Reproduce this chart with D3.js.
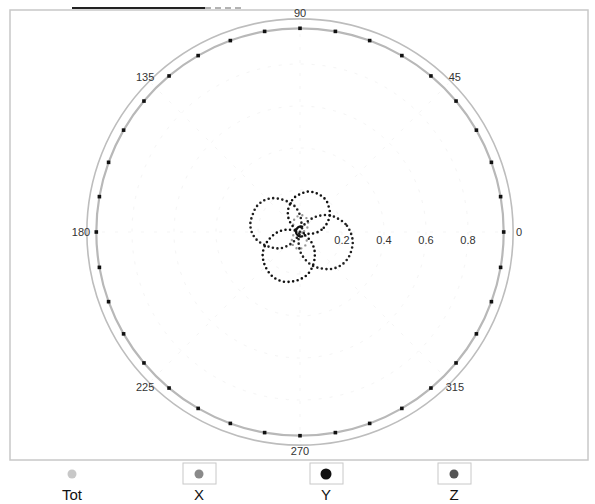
<!DOCTYPE html>
<html>
<head>
<meta charset="utf-8">
<script src="https://cdn.jsdelivr.net/npm/d3@7"></script>
<style>
  body { margin: 0; background: #fff; }
  text { font-family: "Liberation Sans", Arial, sans-serif; }
</style>
</head>
<body>
<svg id="chart"></svg>
<script>
var width = 595;
var height = 504;

// angles in degrees, counter-clockwise from east
var angles = [0, 10, 20, 30, 40, 50, 60, 70, 80, 90, 100, 110, 120, 130, 140, 150, 160, 170,
              180, 190, 200, 210, 220, 230, 240, 250, 260, 270, 280, 290, 300, 310, 320, 330, 340, 350];

var totValues = [0.97, 0.97, 0.97, 0.97, 0.97, 0.97, 0.97, 0.97, 0.97, 0.97, 0.97, 0.97,
                 0.97, 0.97, 0.97, 0.97, 0.97, 0.97, 0.97, 0.97, 0.97, 0.97, 0.97, 0.97,
                 0.97, 0.97, 0.97, 0.97, 0.97, 0.97, 0.97, 0.97, 0.97, 0.97, 0.97, 0.97];

var xValues = [0.24, 0.22, 0.19, 0.16, 0.12, 0.08, 0.04, 0.0, 0.04, 0.08, 0.12, 0.15,
               0.18, 0.21, 0.23, 0.24, 0.24, 0.24, 0.23, 0.21, 0.18, 0.15, 0.12, 0.08,
               0.04, 0.0, 0.04, 0.09, 0.13, 0.17, 0.2, 0.23, 0.25, 0.26, 0.26, 0.255];

var yValues = [0.085, 0.115, 0.14, 0.165, 0.18, 0.195, 0.2, 0.2, 0.195, 0.18, 0.165, 0.14,
               0.115, 0.085, 0.05, 0.018, 0.02, 0.065, 0.105, 0.14, 0.175, 0.205, 0.225, 0.24,
               0.25, 0.25, 0.24, 0.225, 0.205, 0.175, 0.14, 0.105, 0.065, 0.02, 0.018, 0.05];

var zValues = [0.01, 0.02, 0.03, 0.04, 0.05, 0.06, 0.07, 0.075, 0.08, 0.08, 0.075, 0.07,
               0.06, 0.05, 0.04, 0.03, 0.02, 0.01, 0.01, 0.02, 0.03, 0.04, 0.05, 0.06,
               0.07, 0.075, 0.08, 0.08, 0.075, 0.07, 0.06, 0.05, 0.04, 0.03, 0.02, 0.01];

var angleTicks = [0, 45, 90, 135, 180, 225, 270, 315];
var radialTicks = [0.2, 0.4, 0.6, 0.8];
var legendNames = ["Tot", "X", "Y", "Z"];
var legendColors = ["#c8c8c8", "#8a8a8a", "#111", "#555"];

var cx = 300, cy = 232;

var svg = d3.select("#chart")
  .attr("width", width)
  .attr("height", height);

svg.append("rect").attr("width", width).attr("height", height).attr("fill", "#fff");

// scan fragment above the frame
svg.append("line").attr("x1", 72).attr("x2", 205).attr("y1", 8).attr("y2", 8)
  .attr("stroke", "#222").attr("stroke-width", 2);
svg.append("line").attr("x1", 205).attr("x2", 245).attr("y1", 8).attr("y2", 8)
  .attr("stroke", "#666").attr("stroke-width", 1).attr("stroke-dasharray", "6,4");

// plot frame
svg.append("rect").attr("x", 10).attr("y", 10).attr("width", 578).attr("height", 450)
  .attr("fill", "none").attr("stroke", "#c8c8c8").attr("stroke-width", 1.5);

var r = d3.scaleLinear().domain([0, 1]).range([0, 210]);

var g = svg.append("g").attr("transform", "translate(" + cx + "," + cy + ")");

function rad(deg) { return deg * Math.PI / 180; }

// faint grid
g.selectAll(".grid")
  .data(radialTicks)
  .enter().append("circle")
  .attr("r", d => r(d))
  .attr("fill", "none")
  .attr("stroke", "#f5f5f5")
  .attr("stroke-dasharray", "3,8");

g.selectAll(".spoke")
  .data(angleTicks)
  .enter().append("line")
  .attr("x1", 0).attr("y1", 0)
  .attr("x2", d => r(1.0) * Math.cos(rad(d)))
  .attr("y2", d => -r(1.0) * Math.sin(rad(d)))
  .attr("stroke", "#f5f5f5")
  .attr("stroke-dasharray", "3,10");

// outer axis ring
g.append("circle").attr("r", r(1.015))
  .attr("fill", "none").attr("stroke", "#bdbdbd").attr("stroke-width", 1.6);

var radial = d3.lineRadial()
  .angle(d => Math.PI / 2 - rad(d[0]))
  .radius(d => r(d[1]))
  .curve(d3.curveCardinalClosed);

function pairs(vals) { return angles.map((a, i) => [a, vals[i]]); }

// Tot
g.append("path").datum(pairs(totValues))
  .attr("d", radial)
  .attr("fill", "none").attr("stroke", "#b8b8b8").attr("stroke-width", 2.2);

g.selectAll(".totdot")
  .data(pairs(totValues))
  .enter().append("rect")
  .attr("x", d => r(d[1]) * Math.cos(rad(d[0])) - 1.8)
  .attr("y", d => -r(d[1]) * Math.sin(rad(d[0])) - 1.8)
  .attr("width", 3.6).attr("height", 3.6)
  .attr("fill", "#111");

// Z (small grey)
g.append("path").datum(pairs(zValues))
  .attr("d", radial)
  .attr("fill", "none").attr("stroke", "#999").attr("stroke-width", 2.4)
  .attr("stroke-linecap", "round").attr("stroke-dasharray", "0,5");

// X
g.append("path").datum(pairs(xValues))
  .attr("d", radial)
  .attr("fill", "none").attr("stroke", "#222").attr("stroke-width", 2.6)
  .attr("stroke-linecap", "round").attr("stroke-dasharray", "0,4.6");

// Y
g.append("path").datum(pairs(yValues))
  .attr("d", radial)
  .attr("fill", "none").attr("stroke", "#111").attr("stroke-width", 2.6)
  .attr("stroke-linecap", "round").attr("stroke-dasharray", "0,4.6");

// center mark
g.append("path").attr("d", "M3,-5 A5,5 0 1,0 3,4")
  .attr("fill", "none").attr("stroke", "#111").attr("stroke-width", 2.2);

// angle labels
g.selectAll(".alabel")
  .data(angleTicks)
  .enter().append("text")
  .attr("x", d => 219 * Math.cos(rad(d)))
  .attr("y", d => -219 * Math.sin(rad(d)) + 4)
  .attr("text-anchor", "middle")
  .attr("font-size", 11)
  .attr("fill", "#333")
  .text(d => d);

// radial labels
g.selectAll(".rlabel")
  .data(radialTicks)
  .enter().append("text")
  .attr("x", d => r(d))
  .attr("y", 12)
  .attr("text-anchor", "middle")
  .attr("font-size", 11)
  .attr("fill", "#333")
  .text(d => d);

// legend
var legendX = [72, 199, 326, 454];
var lg = svg.selectAll(".legend")
  .data(legendNames)
  .enter().append("g")
  .attr("transform", (d, i) => "translate(" + legendX[i] + ",0)");

lg.filter((d, i) => i > 0).append("rect")
  .attr("x", -16).attr("y", 463).attr("width", 33).attr("height", 21)
  .attr("fill", "#fff").attr("stroke", "#c8c8c8");

lg.append("circle")
  .attr("cx", 0).attr("cy", 474)
  .attr("r", (d, i) => i == 2 ? 5.5 : 4.5)
  .attr("fill", (d, i) => legendColors[i]);

lg.append("text")
  .attr("x", 0).attr("y", 500)
  .attr("text-anchor", "middle")
  .attr("font-size", 15)
  .attr("fill", "#111")
  .text(d => d);
</script>
</body>
</html>
